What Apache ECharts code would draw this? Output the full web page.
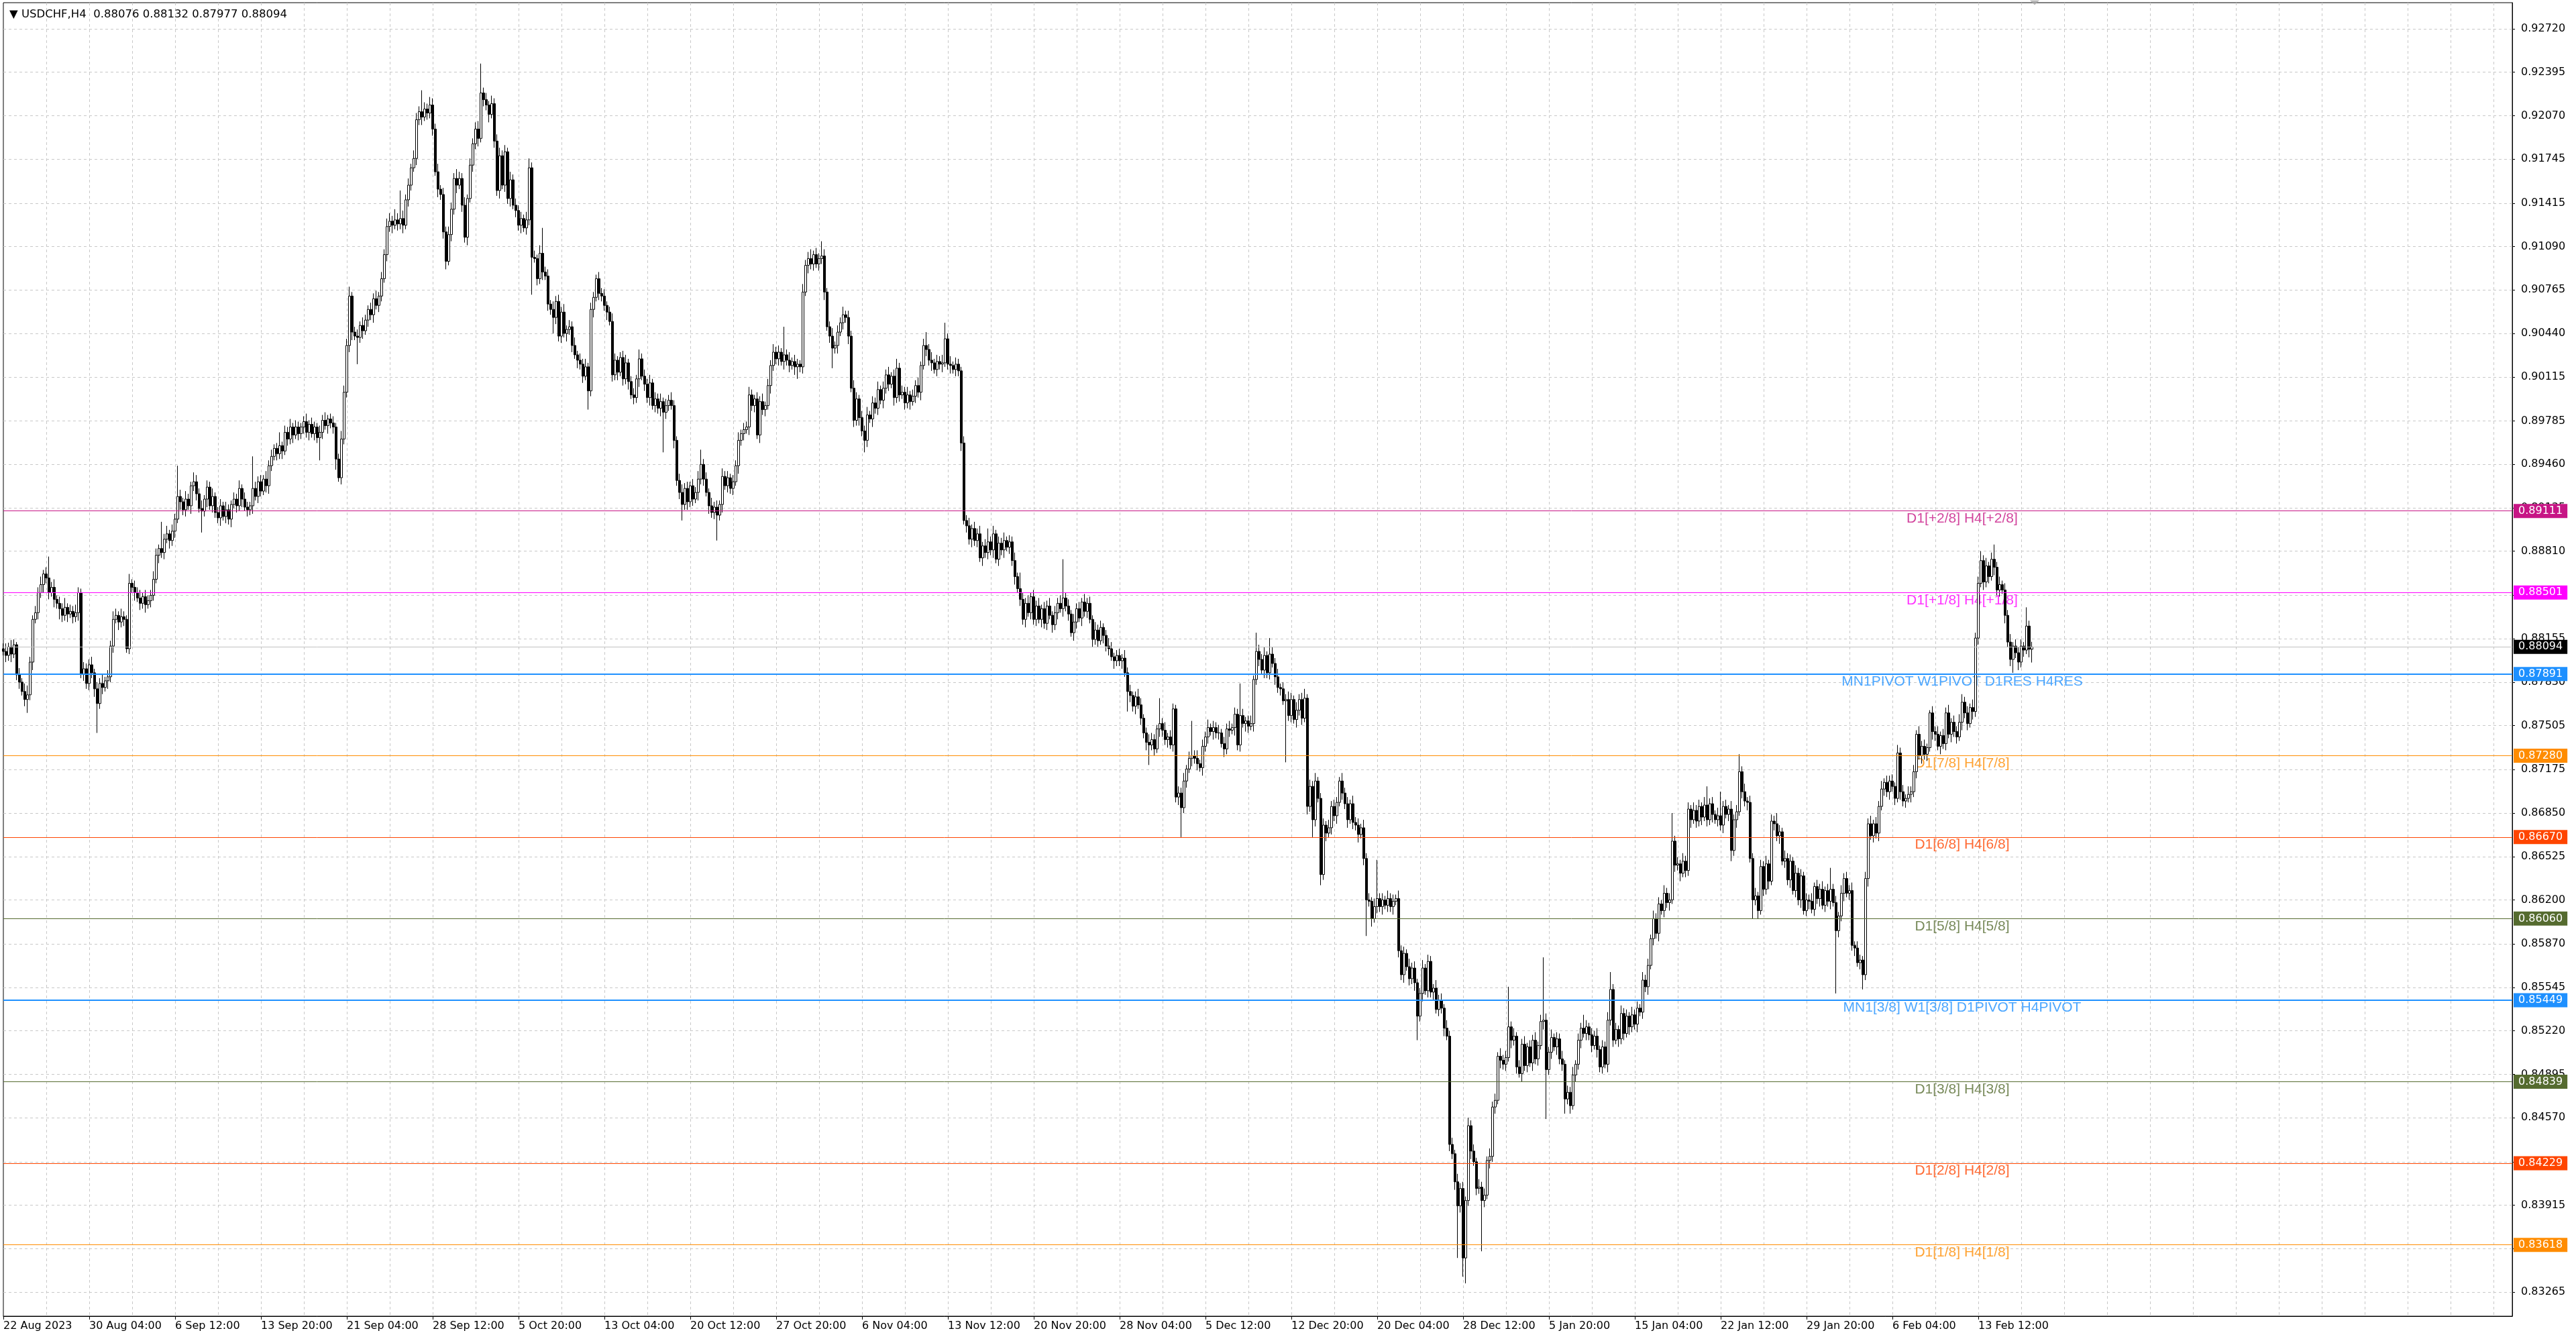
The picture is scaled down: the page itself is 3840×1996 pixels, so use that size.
<!DOCTYPE html>
<html><head><meta charset="utf-8">
<script src="https://cdn.jsdelivr.net/npm/echarts@6/dist/echarts.min.js"></script>
<style>html,body{margin:0;padding:0;background:#fff;}#c{width:3840px;height:1996px;}</style>
</head><body><div id="c"></div>
<script>
// ---- DATA (prices in points of 1e-5, offset by 0.80000) ----
const symbolName = "USDCHF,H4";
const firstOpen = 8080;
const closes = [
8060,8030,8095,8040,8110,7885,7830,7760,7700,7735,7980,8300,8350,8500,8560,8640,
8610,8500,8540,8450,8420,8380,8330,8390,8340,8360,8320,8350,8500,7890,7930,7820,
7960,7900,7780,7670,7820,7790,7840,7870,8100,8300,8330,8280,8320,8300,8080,8570,
8540,8500,8460,8420,8470,8410,8440,8480,8600,8780,8830,8800,8900,8940,8890,8960,
9050,9220,9180,9120,9200,9150,9300,9330,9240,9130,9110,9200,9290,9150,9220,9100,
9060,9150,9070,9120,9050,9160,9200,9150,9280,9200,9140,9120,9150,9280,9220,9330,
9260,9350,9300,9450,9520,9580,9540,9600,9560,9700,9650,9740,9680,9740,9690,9740,
9780,9700,9760,9690,9740,9660,9700,9790,9750,9800,9770,9740,9500,9360,9650,10000,
10350,10720,10450,10420,10410,10500,10460,10540,10620,10580,10700,10650,10720,10850,11030,11240,
11280,11250,11290,11260,11300,11250,11440,11550,11680,11750,12040,12100,12060,12120,12090,12150,
11970,11650,11520,11480,11200,10980,11180,11370,11600,11550,11600,11400,11160,11450,11700,11860,
11970,11900,12240,12190,12150,12080,12160,11880,11510,11770,11550,11800,11450,11590,11400,11360,
11250,11300,11230,11290,11680,11010,11000,10850,11040,10900,10870,10660,10620,10560,10680,10420,
10600,10440,10470,10490,10350,10280,10240,10210,10120,10190,10010,10620,10710,10850,10740,10720,
10650,10600,10530,10130,10240,10150,10260,10100,10220,10080,9980,9960,10100,10250,10120,10060,
9960,10070,9900,9950,9880,9930,9850,9900,9940,9900,9640,9340,9250,9160,9280,9180,
9300,9200,9250,9350,9460,9350,9250,9150,9100,9140,9080,9160,9370,9300,9360,9280,
9330,9450,9640,9690,9720,9740,9980,9900,9950,9680,9930,9870,9900,10050,10200,10300,
10250,10300,10230,10280,10240,10200,10230,10190,10210,10190,10750,10950,11000,10960,11030,10960,
11000,11020,10750,10490,10420,10330,10350,10450,10520,10580,10560,10420,10030,9790,9950,9810,
9710,9640,9830,9800,9920,9880,10020,9940,10030,10130,10060,10120,9960,10180,9980,10000,
9920,9980,9930,9970,10050,10000,10200,10350,10320,10240,10220,10170,10230,10210,10220,10400,
10210,10200,10170,10210,10160,9620,9040,9000,8900,8980,8890,8940,8760,8850,8800,8880,
8820,8940,8750,8870,8820,8890,8840,8880,8740,8620,8530,8450,8300,8420,8350,8470,
8300,8400,8300,8380,8270,8400,8330,8260,8350,8420,8380,8460,8400,8340,8200,8280,
8380,8310,8430,8360,8420,8300,8150,8220,8140,8240,8180,8100,8080,8020,7990,8030,
7990,8010,7900,7760,7730,7650,7720,7660,7560,7450,7380,7360,7400,7330,7480,7520,
7470,7400,7420,7360,7630,6970,7000,6890,7090,7180,7260,7280,7260,7220,7190,7350,
7420,7490,7460,7490,7450,7450,7370,7330,7480,7470,7490,7590,7360,7580,7520,7540,
7500,7520,7850,8060,8000,7920,8030,7900,8040,7970,7870,7790,7780,7690,7700,7580,
7700,7550,7620,7700,7560,7710,6900,7050,6800,7090,6960,6390,6760,6700,6740,6900,
6830,6930,7090,7000,6920,6800,6920,6780,6760,6690,6740,6510,6200,6190,6060,6150,
6210,6150,6200,6160,6210,6150,6190,6210,5820,5640,5800,5700,5610,5690,5580,5330,
5500,5690,5520,5740,5510,5540,5380,5450,5390,5240,5180,4370,4300,4090,3910,4040,
3520,3950,4510,4320,4240,4040,4050,3950,3990,4250,4280,4650,4700,5030,5000,4970,
5020,5250,5150,5180,4950,4900,5120,4960,5100,4980,5150,5010,5110,5290,5300,4930,
5060,5170,5100,5160,5010,4970,4710,4760,4660,4890,4970,5150,5240,5200,5250,5190,
5110,5180,5080,4950,5100,4970,5300,5530,5150,5230,5160,5350,5200,5330,5250,5340,
5270,5390,5360,5600,5550,5710,5910,6060,5950,6170,6120,6250,6180,6200,6640,6460,
6470,6400,6490,6420,6880,6800,6870,6790,6900,6820,6910,6800,6920,6840,6800,6830,
6760,6900,6840,6880,6570,6800,6860,7160,7010,6940,6930,6510,6200,6230,6120,6450,
6280,6470,6340,6790,6770,6680,6710,6490,6510,6350,6490,6270,6400,6200,6380,6120,
6200,6190,6130,6300,6210,6280,6160,6270,6190,6280,6180,5970,6080,6250,6360,6250,
6270,5860,5840,5730,5750,5640,6360,6770,6680,6770,6700,6900,7030,7080,7010,7090,
7050,6960,7300,7010,6940,6960,6990,7010,7160,7440,7280,7350,7290,7340,7600,7460,
7440,7350,7430,7370,7600,7440,7530,7460,7420,7530,7680,7600,7520,7640,7610,8160,
8570,8740,8580,8700,8620,8750,8690,8520,8560,8520,8330,8130,8000,8100,8050,7980,
8100,8070,8250,8076,8094
];
// upper / lower wicks in pips (1e-4)
const upperWick = [
4,6,3,5,4,2,5,3,6,7,4,3,5,4,6,3,
5,16,4,6,3,5,4,7,3,5,4,6,4,3,5,4,
4,6,3,5,4,7,3,5,4,6,5,3,6,4,3,7,
3,5,4,6,3,5,4,4,6,5,3,20,4,6,3,5,
4,23,5,3,6,4,3,7,5,4,6,3,5,4,6,3,
4,5,3,6,4,3,5,4,6,3,5,4,3,24,5,4,
5,3,6,4,5,3,4,10,3,5,4,6,3,5,4,3,
4,6,3,5,4,3,5,4,6,3,4,5,3,4,6,5,
5,7,3,4,5,3,6,4,3,5,4,6,3,5,4,6,
6,4,8,5,21,6,4,5,3,6,5,4,16,5,4,6,
5,4,6,3,5,4,6,5,4,7,5,4,6,3,5,4,
5,6,22,4,5,3,6,4,5,6,4,5,3,6,4,5,
4,5,3,6,7,4,5,3,6,19,4,5,3,6,4,5,
4,6,3,5,4,6,3,5,4,6,3,5,4,3,5,4,
5,3,4,6,5,3,4,5,6,3,4,5,3,7,4,5,
4,6,3,5,4,6,3,5,4,6,4,3,5,6,4,5,
3,5,4,6,11,4,5,3,6,4,5,3,6,4,5,3,
5,4,6,3,5,4,6,4,3,5,4,6,3,5,4,6,
4,5,3,21,4,6,3,5,4,3,6,4,5,7,3,5,
4,11,5,3,4,6,3,5,4,6,3,5,4,6,5,3,
5,4,6,3,5,4,6,3,5,4,6,3,5,7,4,5,
4,6,3,5,4,6,3,5,10,4,6,3,5,4,6,12,
4,6,3,5,4,3,5,4,6,3,5,4,6,3,5,10,
4,6,3,5,4,6,3,5,4,6,3,12,5,4,6,3,
5,4,6,3,5,4,6,3,5,4,6,29,4,5,3,6,
4,5,3,6,4,5,3,6,4,5,3,4,6,5,3,4,
5,3,6,4,5,3,4,6,5,3,4,6,5,4,3,19,
4,6,3,5,4,3,5,4,6,3,5,26,4,6,3,5,
4,6,3,5,4,6,3,5,4,6,3,5,4,24,5,3,
4,6,3,14,5,4,6,3,12,5,4,6,3,5,4,6,
5,3,6,4,5,7,3,5,4,6,3,4,5,3,6,4,
5,4,3,6,4,5,3,6,4,5,3,6,4,5,3,6,
29,4,5,3,6,4,5,3,6,4,5,3,6,4,5,3,
4,6,3,5,4,3,6,4,5,3,6,4,5,3,6,4,
5,3,6,4,5,3,6,4,5,3,6,4,5,3,6,4,
5,30,4,6,3,5,4,6,3,5,4,6,3,5,47,5,
4,6,3,5,4,6,3,5,4,6,3,5,4,10,5,3,
5,4,6,3,5,4,6,13,4,5,3,6,4,5,3,6,
4,5,3,6,4,5,3,6,4,5,3,6,4,5,21,4,
5,3,6,4,5,3,6,4,5,3,6,14,4,5,3,6,
18,4,5,3,6,4,5,13,4,6,3,5,4,6,3,5,
4,6,3,5,4,8,5,3,6,4,5,3,6,4,5,3,
5,4,6,3,5,4,6,3,5,16,4,5,3,6,4,5,
4,6,3,5,4,3,5,4,6,3,5,4,6,3,5,4,
5,3,6,4,5,3,6,4,5,3,6,4,5,3,2,5,
4,6,3,5,4,6,3,5,4,6,6,4,5,3,6,4,
5,7,4,6,3,5,11,4,6,3,5,4,6,3,5,4,
5,3,14,4,3.8
];
const lowerWick = [
3,5,4,6,3,4,5,3,5,10,4,6,3,5,4,6,
4,5,3,6,4,8,5,4,6,3,5,4,6,3,5,4,
5,4,6,22,4,5,3,6,4,5,3,6,4,5,3,4,
4,6,3,5,4,6,3,5,4,3,6,4,5,3,6,4,
5,3,6,4,5,3,6,4,5,3,16,4,6,3,5,4,
4,6,3,5,4,6,3,5,4,6,3,5,4,6,3,5,
4,3,5,6,4,3,5,4,6,3,5,4,6,3,5,4,
5,4,6,3,5,4,17,5,3,6,4,5,8,3,5,4,
4,5,6,3,20,4,6,3,5,4,6,3,5,4,3,5,
4,6,3,5,4,6,3,5,4,3,5,4,6,3,5,4,
5,3,6,4,5,6,3,5,4,6,3,5,4,6,3,5,
4,6,3,5,4,6,3,5,4,6,3,5,4,6,3,5,
4,6,3,5,4,28,3,5,4,6,3,5,4,12,5,4,
5,3,6,4,5,3,6,4,5,3,14,4,6,3,5,4,
4,6,3,5,4,6,3,5,4,6,3,5,4,6,3,5,
4,6,3,5,4,6,30,5,4,3,6,4,5,12,4,6,
4,5,3,6,4,5,3,6,4,5,19,4,6,3,5,4,
5,3,6,4,5,3,6,4,5,3,6,4,5,3,6,4,
4,5,3,6,4,5,3,6,9,4,5,3,6,4,5,3,
5,4,6,3,5,15,4,6,3,5,4,6,3,5,4,6,
4,9,5,3,6,4,5,3,6,4,5,3,6,4,5,3,
5,4,6,3,5,4,6,3,5,4,6,3,5,4,6,3,
4,6,3,5,4,6,3,5,4,6,4,5,3,6,4,5,
4,6,3,5,4,6,3,5,4,6,3,5,4,6,3,5,
4,5,3,6,4,5,3,6,4,5,3,6,4,5,3,6,
5,3,6,4,5,3,6,4,5,3,6,4,5,3,6,4,
4,6,3,15,5,4,6,3,5,4,6,15,4,5,3,6,
5,4,6,3,5,4,6,22,4,5,3,6,4,5,3,6,
4,5,3,6,4,5,3,6,4,5,3,6,4,5,3,6,
5,3,6,4,5,3,6,4,5,3,6,4,5,3,46,4,
5,3,6,4,5,3,6,4,13,5,3,8,4,6,3,5,
4,6,3,5,4,6,3,5,4,6,3,5,27,4,6,3,
5,4,6,3,5,4,6,3,5,4,6,3,5,4,6,18,
4,6,3,5,4,6,3,5,4,6,3,5,4,6,39,5,
14,19,4,6,3,5,4,38,5,3,6,4,5,3,6,4,
5,3,6,4,5,3,6,4,5,3,6,4,5,3,6,37,
4,5,3,6,4,5,11,4,6,3,5,4,6,3,5,4,
5,3,6,4,5,3,6,4,5,3,6,4,5,3,6,4,
4,6,3,5,4,6,3,5,4,6,3,5,4,6,3,5,
4,6,3,5,4,6,3,5,4,6,3,5,4,6,3,5,
4,6,3,5,8,4,6,3,5,4,6,3,14,4,6,3,
5,4,6,3,5,4,6,3,5,4,6,3,5,4,6,3,
4,6,3,5,4,6,3,5,4,6,3,47,5,4,6,3,
5,4,6,3,5,11,4,6,3,5,4,6,3,5,4,6,
4,5,3,6,4,5,3,6,4,5,3,6,4,5,3,6,
5,3,6,4,5,3,6,4,5,3,6,4,5,3,6,4,
5,3,6,4,5,3,6,4,5,3,6,4,5,10,4,6,
4,5,3,6,9.9
];
const totalSlots = 936;           // bar slots across the visible window
const xTickEvery = 32;
const xGridEvery = 16;
const xTickLabels = ["22 Aug 2023","30 Aug 04:00","6 Sep 12:00","13 Sep 20:00","21 Sep 04:00","28 Sep 12:00","5 Oct 20:00","13 Oct 04:00","20 Oct 12:00","27 Oct 20:00","6 Nov 04:00","13 Nov 12:00","20 Nov 20:00","28 Nov 04:00","5 Dec 12:00","12 Dec 20:00","20 Dec 04:00","28 Dec 12:00","5 Jan 20:00","15 Jan 04:00","22 Jan 12:00","29 Jan 20:00","6 Feb 04:00","13 Feb 12:00"];
const yTicks = [0.92720,0.92395,0.92070,0.91745,0.91415,0.91090,0.90765,0.90440,0.90115,0.89785,0.89460,0.89135,0.88810,0.88480,0.88155,0.87830,0.87505,0.87175,0.86850,0.86525,0.86200,0.85870,0.85545,0.85220,0.84895,0.84570,0.84240,0.83915,0.83590,0.83265];
const yMin = 0.830842, yMax = 0.929158;
const levelValues = [0.89111,0.88501,0.87891,0.87280,0.86670,0.86060,0.85449,0.84839,0.84229,0.83618];
const levelNames = ["D1[+2/8] H4[+2/8]","D1[+1/8] H4[+1/8]","MN1PIVOT W1PIVOT D1RES H4RES","D1[7/8] H4[7/8]","D1[6/8] H4[6/8]","D1[5/8] H4[5/8]","MN1[3/8] W1[3/8] D1PIVOT H4PIVOT","D1[3/8] H4[3/8]","D1[2/8] H4[2/8]","D1[1/8] H4[1/8]"];
const levelColors = ["#C71585","#FF00FF","#1E90FF","#FF8C00","#FF4500","#556B2F","#1E90FF","#556B2F","#FF4500","#FF8C00"];
const levelWidths = [1,1,2,1,1,1,2,1,1,1];
const levelLabelSlot = 730;

// ---- BUILD ----
const toP = v => (80000 + v) / 100000;
const candles = [];
let prev = firstOpen;
for (let i = 0; i < closes.length; i++) {
  const o = prev, c = closes[i];
  const hi = Math.max(o, c) + upperWick[i] * 10;
  const lo = Math.min(o, c) - lowerWick[i] * 10;
  candles.push([toP(o), toP(c), toP(lo), toP(hi)]);
  prev = c;
}
const last = candles[candles.length - 1];
const lastPrice = last[1];
const cats = [];
for (let i = 0; i < totalSlots; i++) cats.push(String(i));

const F = 'DejaVu Sans';
const markData = levelValues.map((v, k) => ({
  yAxis: v,
  lineStyle: { color: levelColors[k], width: levelWidths[k], type: 'solid' },
  label: { show: true, position: 'end', distance: 2, formatter: v.toFixed(5),
    backgroundColor: levelColors[k], color: '#fff', padding: [3, 7, 2, 7],
    fontFamily: F, fontSize: 16 }
}));
markData.push({
  yAxis: lastPrice,
  lineStyle: { color: '#C0C0C0', width: 1, type: 'solid' },
  label: { show: true, position: 'end', distance: 2, formatter: lastPrice.toFixed(5),
    backgroundColor: '#000', color: '#fff', padding: [3, 7, 2, 7], fontFamily: F, fontSize: 16 }
});

const labelData = levelValues.map((v, k) => ({
  value: [levelLabelSlot, v],
  label: { color: levelColors[k] }
}));

const chart = echarts.init(document.getElementById('c'), null, { renderer: 'canvas' });
chart.setOption({
  animation: false,
  backgroundColor: '#fff',
  title: {
    text: '\u25BC ' + symbolName + '  ' + [last[0], last[3], last[2], last[1]].map(v => v.toFixed(5)).join(' '),
    left: 9, top: 8,
    textStyle: { fontFamily: F, fontSize: 16.5, fontWeight: 'normal', color: '#000' }
  },
  grid: { left: 5, right: 95, top: 4, bottom: 34, show: true, borderColor: '#000', borderWidth: 1, backgroundColor: '#fff' },
  xAxis: {
    type: 'category', data: cats, boundaryGap: false,
    axisLine: { show: true, lineStyle: { color: '#000', width: 1 } },
    axisTick: { show: true, length: 5, lineStyle: { color: '#000' },
      interval: (i) => i % xTickEvery === 0 && i / xTickEvery < xTickLabels.length },
    axisLabel: { show: true, align: 'left', margin: 7, color: '#000', fontFamily: F, fontSize: 16,
      interval: (i) => i % xTickEvery === 0 && i / xTickEvery < xTickLabels.length,
      formatter: (val, i) => xTickLabels[i / xTickEvery] || '' },
    splitLine: { show: true, interval: (i) => i % xGridEvery === 0 && i > 0,
      lineStyle: { color: '#C8C8C8', width: 1, type: [4, 4] } }
  },
  yAxis: {
    type: 'value', position: 'right', min: yMin, max: yMax, scale: true,
    axisLine: { show: true, lineStyle: { color: '#000' } },
    axisTick: { show: true, length: 4, customValues: yTicks, lineStyle: { color: '#000' } },
    axisLabel: { show: true, margin: 13, customValues: yTicks, color: '#000', fontFamily: F, fontSize: 16,
      formatter: v => v.toFixed(5) },
    splitLine: { show: true, lineStyle: { color: '#C8C8C8', width: 1, type: [4, 4] } }
  },
  series: [
    {
      type: 'candlestick', name: symbolName, data: candles, large: false,
      barWidth: 3,
      itemStyle: { color: '#fff', color0: '#000', borderColor: '#000', borderColor0: '#000', borderWidth: 1 },
      z: 3
    },
    {
      type: 'scatter', name: 'levels', data: labelData, symbolSize: 0, silent: true, z: 2,
      label: { show: true, position: 'bottom', distance: 1, fontFamily: 'Liberation Sans', fontSize: 21,
        formatter: p => levelNames[p.dataIndex] },
      markLine: { silent: true, symbol: 'none', animation: false, precision: 5, data: markData }
    },
    {
      type: 'scatter', name: 'shift', data: [[candles.length, yMax]], symbol: 'triangle', symbolRotate: 180,
      symbolSize: [14, 7], clip: false, silent: true,
      itemStyle: { color: '#A8A8A8' }, z: 5
    }
  ]
});
</script></body></html>
